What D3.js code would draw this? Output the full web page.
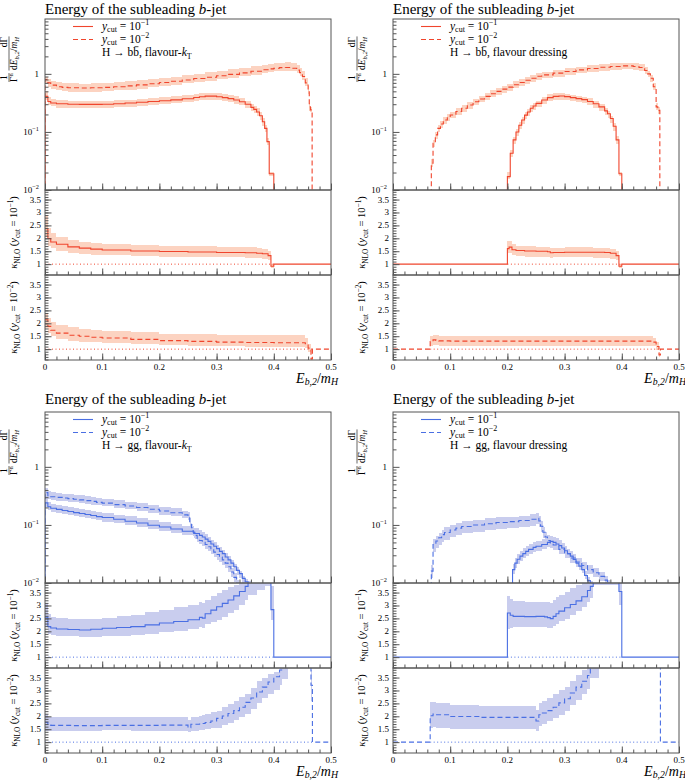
<!DOCTYPE html>
<html><head><meta charset="utf-8">
<script src="https://cdn.jsdelivr.net/npm/d3@7"></script>
<style>
body{margin:0;background:#fff}
svg{display:block}
text{font-family:"Liberation Serif","DejaVu Serif",serif;fill:#000}
</style>
</head><body>
<svg id="c" width="685" height="781"></svg>
<script>
// ---------------- DATA ----------------
// main distributions: [bin lower edge, value]; last entry = upper edge of last bin
const bbKt01 = [[0,0.41],[0.005,0.335],[0.01,0.315],[0.02,0.305],[0.04,0.30],[0.06,0.298],[0.08,0.298],[0.10,0.30],[0.12,0.305],[0.14,0.315],[0.16,0.325],[0.18,0.335],[0.20,0.345],[0.22,0.357],[0.24,0.372],[0.26,0.392],[0.27,0.403],[0.28,0.413],[0.29,0.413],[0.30,0.403],[0.31,0.39],[0.32,0.375],[0.33,0.355],[0.34,0.33],[0.35,0.30],[0.36,0.265],[0.365,0.245],[0.37,0.22],[0.375,0.19],[0.38,0.15],[0.384,0.115],[0.388,0.068],[0.392,0.019],[0.40,null]];
const bbKt001 = [[0,0.80],[0.005,0.70],[0.01,0.64],[0.02,0.60],[0.03,0.585],[0.04,0.575],[0.06,0.57],[0.08,0.575],[0.10,0.585],[0.12,0.60],[0.14,0.62],[0.16,0.645],[0.18,0.675],[0.20,0.71],[0.22,0.745],[0.24,0.785],[0.26,0.83],[0.28,0.875],[0.30,0.925],[0.32,0.98],[0.34,1.04],[0.36,1.11],[0.38,1.18],[0.39,1.22],[0.40,1.25],[0.41,1.28],[0.42,1.29],[0.43,1.25],[0.44,1.16],[0.445,1.05],[0.45,0.90],[0.455,0.70],[0.46,0.53],[0.462,0.27],[0.464,0.24],[0.467,null]];
const bbDr01 = [[0.20,0.017],[0.205,0.043],[0.21,0.073],[0.215,0.10],[0.22,0.13],[0.225,0.16],[0.23,0.195],[0.235,0.22],[0.24,0.255],[0.245,0.28],[0.25,0.31],[0.26,0.355],[0.27,0.39],[0.28,0.41],[0.29,0.415],[0.30,0.405],[0.31,0.39],[0.32,0.375],[0.33,0.36],[0.34,0.335],[0.35,0.305],[0.36,0.27],[0.37,0.23],[0.375,0.205],[0.38,0.17],[0.385,0.125],[0.39,0.073],[0.395,0.019],[0.40,null]];
const bbDr001 = [[0.067,0.029],[0.07,0.064],[0.074,0.089],[0.078,0.115],[0.083,0.137],[0.088,0.16],[0.095,0.18],[0.10,0.196],[0.11,0.225],[0.12,0.255],[0.13,0.29],[0.14,0.33],[0.15,0.37],[0.16,0.41],[0.17,0.455],[0.18,0.50],[0.19,0.545],[0.20,0.59],[0.21,0.65],[0.22,0.71],[0.23,0.775],[0.24,0.84],[0.25,0.91],[0.26,0.96],[0.28,1.03],[0.30,1.10],[0.32,1.17],[0.34,1.24],[0.36,1.30],[0.38,1.34],[0.40,1.37],[0.41,1.37],[0.42,1.34],[0.43,1.29],[0.44,1.14],[0.445,1.0],[0.45,0.84],[0.455,0.60],[0.46,0.27],[0.463,0.235],[0.4665,null]];
const ggKt01 = [[0,0.24],[0.005,0.205],[0.01,0.194],[0.02,0.185],[0.03,0.177],[0.04,0.17],[0.05,0.163],[0.06,0.157],[0.07,0.151],[0.08,0.145],[0.09,0.139],[0.10,0.134],[0.12,0.125],[0.14,0.116],[0.16,0.108],[0.18,0.099],[0.20,0.092],[0.22,0.085],[0.24,0.078],[0.26,0.071],[0.27,0.066],[0.275,0.062],[0.28,0.057],[0.285,0.052],[0.29,0.047],[0.295,0.043],[0.30,0.039],[0.305,0.035],[0.31,0.032],[0.315,0.028],[0.32,0.025],[0.325,0.022],[0.33,0.019],[0.335,0.0165],[0.34,0.0145],[0.345,0.012],[0.35,0.0105],[0.355,0.009],[0.36,null]];
const ggKt001 = [[0,0.36],[0.005,0.32],[0.01,0.305],[0.02,0.298],[0.03,0.29],[0.04,0.284],[0.05,0.277],[0.06,0.27],[0.07,0.262],[0.08,0.254],[0.09,0.245],[0.10,0.237],[0.12,0.224],[0.14,0.212],[0.16,0.199],[0.18,0.186],[0.20,0.174],[0.22,0.162],[0.24,0.149],[0.25,0.14],[0.253,0.11],[0.256,0.09],[0.259,0.075],[0.262,0.066],[0.266,0.059],[0.27,0.054],[0.275,0.050],[0.28,0.046],[0.285,0.042],[0.29,0.038],[0.295,0.034],[0.30,0.031],[0.305,0.028],[0.31,0.025],[0.315,0.022],[0.32,0.019],[0.325,0.0155],[0.33,0.0125],[0.335,0.0095],[0.34,null]];
const ggDr01 = [[0.209,0.017],[0.213,0.022],[0.217,0.0256],[0.222,0.029],[0.227,0.032],[0.232,0.035],[0.237,0.038],[0.245,0.041],[0.25,0.043],[0.26,0.046],[0.27,0.050],[0.275,0.052],[0.28,0.050],[0.285,0.047],[0.29,0.044],[0.295,0.040],[0.30,0.036],[0.305,0.032],[0.31,0.029],[0.315,0.0255],[0.32,0.022],[0.325,0.0195],[0.33,0.017],[0.335,0.0135],[0.34,0.011],[0.345,0.0095],[0.35,null]];
const ggDr001 = [[0.067,0.016],[0.07,0.046],[0.075,0.053],[0.08,0.060],[0.085,0.068],[0.09,0.074],[0.10,0.082],[0.11,0.088],[0.12,0.094],[0.14,0.10],[0.16,0.105],[0.18,0.11],[0.20,0.114],[0.22,0.119],[0.24,0.125],[0.25,0.13],[0.255,0.117],[0.258,0.095],[0.262,0.075],[0.266,0.062],[0.27,0.054],[0.275,0.049],[0.28,0.045],[0.29,0.038],[0.30,0.032],[0.31,0.027],[0.32,0.023],[0.33,0.020],[0.34,0.017],[0.35,0.015],[0.36,0.013],[0.37,0.0112],[0.375,0.0098],[0.38,null]];

// K-factors: [bin lower edge, ratio, band low, band high]
const bbKtR01 = [[0,2.37,2.05,2.88],[0.005,1.99,1.70,2.40],[0.01,1.86,1.62,2.20],[0.02,1.77,1.52,2.05],[0.04,1.67,1.42,1.93],[0.06,1.62,1.38,1.87],[0.08,1.58,1.36,1.82],[0.10,1.55,1.34,1.78],[0.15,1.51,1.31,1.73],[0.20,1.49,1.29,1.71],[0.25,1.47,1.27,1.69],[0.30,1.45,1.26,1.67],[0.35,1.44,1.24,1.66],[0.37,1.42,1.22,1.64],[0.38,1.40,1.20,1.60],[0.39,1.33,1.15,1.52],[0.395,0.92,0.85,1.0],[0.40,1,null,null],[0.50,null]];
const bbKtR001 = [[0,2.14,1.82,2.40],[0.005,1.88,1.62,2.20],[0.01,1.73,1.50,2.05],[0.02,1.62,1.40,1.92],[0.04,1.54,1.33,1.84],[0.06,1.50,1.29,1.78],[0.08,1.46,1.26,1.75],[0.10,1.43,1.24,1.72],[0.15,1.38,1.19,1.66],[0.20,1.33,1.15,1.60],[0.25,1.30,1.13,1.57],[0.30,1.27,1.11,1.54],[0.35,1.26,1.10,1.53],[0.40,1.25,1.10,1.53],[0.45,1.25,1.10,1.53],[0.455,1.21,1.06,1.45],[0.46,1.04,0.90,1.20],[0.465,0.62,0.58,0.70],[0.4675,1,null,null],[0.50,null]];
const bbDrR01 = [[0,1,null,null],[0.20,1.60,1.44,1.90],[0.203,1.66,1.45,1.88],[0.208,1.56,1.35,1.78],[0.215,1.53,1.31,1.72],[0.23,1.51,1.29,1.69],[0.25,1.50,1.28,1.68],[0.27,1.48,1.27,1.66],[0.275,1.44,1.25,1.63],[0.28,1.45,1.26,1.64],[0.30,1.46,1.26,1.65],[0.35,1.46,1.25,1.64],[0.37,1.45,1.23,1.63],[0.38,1.42,1.20,1.60],[0.39,1.33,1.15,1.52],[0.395,0.92,0.85,1.0],[0.40,1,null,null],[0.50,null]];
const bbDrR001 = [[0,1,null,null],[0.065,1.29,1.12,1.50],[0.07,1.36,1.16,1.56],[0.075,1.34,1.15,1.53],[0.08,1.32,1.14,1.50],[0.10,1.31,1.14,1.49],[0.20,1.31,1.14,1.49],[0.30,1.31,1.14,1.49],[0.40,1.31,1.14,1.49],[0.455,1.27,1.11,1.45],[0.46,1.10,0.97,1.26],[0.465,0.78,0.70,0.88],[0.4675,1,null,null],[0.50,null]];
const ggKtR01 = [[0,2.55,2.16,3.08],[0.005,2.18,1.89,2.68],[0.01,2.13,1.85,2.55],[0.02,2.09,1.82,2.51],[0.04,2.07,1.80,2.49],[0.06,2.05,1.78,2.48],[0.08,2.08,1.79,2.49],[0.10,2.12,1.80,2.51],[0.125,2.15,1.83,2.58],[0.15,2.18,1.86,2.64],[0.175,2.25,1.91,2.74],[0.20,2.32,1.96,2.84],[0.225,2.38,2.02,2.93],[0.25,2.45,2.08,3.02],[0.27,2.54,2.16,3.12],[0.275,2.51,2.13,3.08],[0.28,2.68,2.27,3.22],[0.29,2.82,2.35,3.35],[0.30,2.95,2.42,3.47],[0.31,3.08,2.56,3.60],[0.32,3.21,2.70,3.70],[0.33,3.37,2.84,3.80],[0.34,3.54,3.00,3.95],[0.35,3.74,3.20,4.2],[0.355,4.2,3.4,5.0],[0.37,4.4,3.6,5.2],[0.385,4.6,3.75,5.4],[0.395,2.84,2.42,3.74],[0.40,1,null,null],[0.50,null]];
const ggKtR001 = [[0,1.76,1.43,2.09],[0.005,1.67,1.45,1.98],[0.01,1.65,1.45,1.97],[0.05,1.64,1.45,1.97],[0.10,1.65,1.46,1.98],[0.15,1.65,1.45,1.97],[0.20,1.66,1.44,1.97],[0.25,1.56,1.38,1.84],[0.255,1.69,1.45,1.98],[0.27,1.70,1.46,2.00],[0.275,1.72,1.47,2.04],[0.28,1.76,1.50,2.09],[0.29,1.82,1.53,2.15],[0.30,1.92,1.56,2.22],[0.31,2.01,1.66,2.36],[0.32,2.11,1.75,2.48],[0.33,2.22,1.84,2.60],[0.34,2.35,1.96,2.74],[0.35,2.54,2.09,2.87],[0.36,2.71,2.28,3.10],[0.37,2.94,2.50,3.35],[0.38,3.13,2.70,3.50],[0.39,3.33,2.85,3.62],[0.40,3.53,3.0,3.72],[0.41,3.79,3.2,3.95],[0.415,4.1,3.45,4.8],[0.425,4.6,4.0,5.4],[0.465,3.2,2.6,3.8],[0.4675,1,null,null],[0.50,null]];
const ggDrR01 = [[0,1,null,null],[0.20,2.71,2.09,3.37],[0.205,2.62,2.12,3.25],[0.21,2.58,2.15,3.18],[0.23,2.57,2.16,3.15],[0.25,2.58,2.16,3.14],[0.265,2.56,2.15,3.13],[0.27,2.53,2.14,3.12],[0.275,2.49,2.12,3.10],[0.28,2.58,2.20,3.22],[0.285,2.68,2.30,3.33],[0.29,2.78,2.38,3.42],[0.30,2.91,2.49,3.54],[0.31,3.04,2.62,3.66],[0.32,3.18,2.77,3.78],[0.33,3.34,2.95,3.92],[0.34,3.58,3.15,4.1],[0.345,3.74,3.3,4.3],[0.35,4.4,3.8,5.2],[0.395,3.54,3.0,4.2],[0.40,1,null,null],[0.50,null]];
const ggDrR001 = [[0,1,null,null],[0.065,2.02,1.56,2.54],[0.07,2.09,1.58,2.56],[0.075,2.06,1.56,2.52],[0.10,1.99,1.52,2.45],[0.15,1.96,1.50,2.41],[0.20,1.96,1.52,2.38],[0.25,1.82,1.45,2.25],[0.255,2.06,1.62,2.52],[0.26,2.13,1.72,2.60],[0.27,2.22,1.82,2.72],[0.28,2.35,1.92,2.86],[0.29,2.52,2.06,3.00],[0.30,2.68,2.22,3.13],[0.31,2.90,2.42,3.38],[0.32,3.13,2.62,3.60],[0.33,3.36,2.87,3.79],[0.34,3.58,3.05,4.0],[0.345,4.2,3.5,5.0],[0.36,4.8,4.0,5.6],[0.4675,1,null,null],[0.50,null]];

// ranges where LO is non-zero (reference line at 1)
const loRangeKt = [[0,0.40],[0,0.4675]];
const loRangeDr = [[0.20,0.40],[0.065,0.4675]];

// ticks / labels
const xMajor = [0,0.1,0.2,0.3,0.4,0.5];
const xLabels = ["0","0.1","0.2","0.3","0.4","0.5"];
const mainMajor = [0.01,0.1,1];
const mainLabels = [["10","−2"],["10","−1"],["1",""]];
const ratioMajor = [1,1.5,2,2.5,3,3.5];
const ratioLabels = ["1","1.5","2","2.5","3","3.5"];
const cutLabels = ["−1","−2"];
const titleText = "Energy of the subleading ";
const procLabels = {bb:"H → bb, flavour", gg:"H → gg, flavour"};

// ---------------- STYLE ----------------
const RED = "#f0452d", RED_BAND = "#fcd3c1";
const BLUE = "#4a6fe3", BLUE_BAND = "#c9cdee";
const FRAME = "#555";
const W = 286, MAINH = 171, RH = 85;

const svg = d3.select("#c");

function rich(t, parts, fs, subShift){
  let shift = 0;
  const ss = subShift==null ? 0.25 : subShift;
  parts.forEach(p=>{
    const ts = t.append("tspan").text(p.t);
    const target = p.sub ? ss*fs : (p.sup ? -0.4*fs : 0);
    if (target - shift !== 0) ts.attr("dy", target - shift);
    shift = target;
    if (p.it) ts.attr("font-style","italic");
    if (p.sub || p.sup) ts.attr("font-size", (fs*0.7).toFixed(1)+"px");
  });
  return t;
}

function bins(arr){
  return arr.slice(0,-1).map((d,i)=>({x0:d[0], x1:arr[i+1][0], v:d[1], lo:d[2], hi:d[3]}));
}
function relErr(ratio, xm){
  for (let i=0;i<ratio.length-1;i++){
    if (xm>=ratio[i][0] && xm<ratio[i+1][0]){
      const d = ratio[i];
      if (d[2]==null) return null;
      return [d[2]/d[1], d[3]/d[1]];
    }
  }
  return null;
}

const panels = [
  {L:45,  T:19,  color:RED,  band:RED_BAND,  proc:"bb", alg:"kt", main:[bbKt01,bbKt001], ratio:[bbKtR01,bbKtR001], lo:loRangeKt},
  {L:393, T:19,  color:RED,  band:RED_BAND,  proc:"bb", alg:"dr", main:[bbDr01,bbDr001], ratio:[bbDrR01,bbDrR001], lo:loRangeDr},
  {L:45,  T:412, color:BLUE, band:BLUE_BAND, proc:"gg", alg:"kt", main:[ggKt01,ggKt001], ratio:[ggKtR01,ggKtR001], lo:loRangeKt},
  {L:393, T:412, color:BLUE, band:BLUE_BAND, proc:"gg", alg:"dr", main:[ggDr01,ggDr001], ratio:[ggDrR01,ggDrR001], lo:loRangeDr}
];

const xMinor = d3.range(0,26).map(i=>i*0.02);
const mainMinor = [];
[0.01,0.1,1].forEach(d=>{ for(let k=2;k<=9;k++){ if(k*d<8.8) mainMinor.push(k*d); } });
const ratioMinor = d3.range(6,39).map(i=>i/10);

panels.forEach((p,pi)=>{
  const g = svg.append("g");
  const L=p.L, R=L+W, T=p.T, MB=T+MAINH, R1B=MB+RH, R2B=R1B+RH;
  const x = d3.scaleLinear().domain([0,0.5]).range([L,R]);
  const yM = d3.scaleLog().domain([0.01,8.8]).range([MB,T]);
  const yR1 = d3.scaleLinear().domain([0.58,3.87]).range([R1B,MB]);
  const yR2 = d3.scaleLinear().domain([0.58,3.87]).range([R2B,R1B]);
  const dashes = [null,"5,3"];

  function clip(id, y0, y1){
    svg.append("clipPath").attr("id",id).append("rect").attr("x",L).attr("y",y0).attr("width",W).attr("height",y1-y0);
    return g.append("g").attr("clip-path",`url(#${id})`);
  }

  // ---- main ----
  const gm = clip("cm"+pi, T, MB);
  p.main.forEach((arr,si)=>{
    const b = bins(arr);
    b.forEach(bb=>{
      const e = relErr(p.ratio[si], (bb.x0+bb.x1)/2);
      if (!e || bb.v==null) return;
      const y1 = yM(bb.v*e[1]), y0 = yM(bb.v*e[0]);
      gm.append("rect").attr("x",x(bb.x0)).attr("width",x(bb.x1)-x(bb.x0))
        .attr("y",y1).attr("height",y0-y1).attr("fill",p.band).attr("shape-rendering","crispEdges");
    });
  });
  const floor = 1e-4;
  p.main.forEach((arr,si)=>{
    const b = bins(arr), last = b[b.length-1];
    const pts = [[b[0].x0,floor]].concat(b.map(d=>[d.x0,d.v]), [[last.x1,last.v],[last.x1,floor]]);
    gm.append("path").attr("d", d3.line().x(d=>x(d[0])).y(d=>yM(d[1])).curve(d3.curveStepAfter)(pts))
      .attr("fill","none").attr("stroke",p.color).attr("stroke-width",1.1)
      .attr("stroke-dasharray",dashes[si]);
  });

  // ---- ratios ----
  [yR1,yR2].forEach((yr,si)=>{
    const top = si===0?MB:R1B, bot = si===0?R1B:R2B;
    const gr = clip("cr"+pi+"_"+si, top, bot);
    const b = bins(p.ratio[si]), last = b[b.length-1];
    b.forEach(bb=>{
      if (bb.lo==null) return;
      gr.append("rect").attr("x",x(bb.x0)).attr("width",x(bb.x1)-x(bb.x0))
        .attr("y",yr(bb.hi)).attr("height",yr(bb.lo)-yr(bb.hi)).attr("fill",p.band).attr("shape-rendering","crispEdges");
    });
    const lr = p.lo[si];
    gr.append("path").attr("d", d3.line().x(d=>x(d[0])).y(d=>yr(d[1]))([[lr[0],1],[lr[1],1]]))
      .attr("stroke",p.color).attr("stroke-width",1).attr("stroke-dasharray","1,2.5").attr("fill","none");
    const pts = b.map(d=>[d.x0,d.v]).concat([[last.x1,last.v]]);
    gr.append("path").attr("d", d3.line().x(d=>x(d[0])).y(d=>yr(d[1])).curve(d3.curveStepAfter)(pts))
      .attr("fill","none").attr("stroke",p.color).attr("stroke-width",1.1)
      .attr("stroke-dasharray",dashes[si]);
  });

  // ---- axes & frames ----
  function xAxis(yPos){
    g.append("g").attr("transform",`translate(0,${yPos})`)
      .call(d3.axisBottom(x).tickValues(xMinor).tickSize(-3.5).tickFormat(""))
      .call(a=>{a.select(".domain").remove(); a.selectAll("line").attr("stroke",FRAME);});
    g.append("g").attr("transform",`translate(0,${yPos})`)
      .call(d3.axisBottom(x).tickValues(xMajor).tickSize(-6.5).tickFormat(""))
      .call(a=>{a.select(".domain").remove(); a.selectAll("line").attr("stroke",FRAME);});
  }
  function yAxis(scale, minor, major){
    g.append("g").attr("transform",`translate(${L},0)`)
      .call(d3.axisLeft(scale).tickValues(minor).tickSize(-3.5).tickFormat(""))
      .call(a=>{a.select(".domain").remove(); a.selectAll("line").attr("stroke",FRAME);});
    g.append("g").attr("transform",`translate(${L},0)`)
      .call(d3.axisLeft(scale).tickValues(major).tickSize(-6.5).tickFormat(""))
      .call(a=>{a.select(".domain").remove(); a.selectAll("line").attr("stroke",FRAME);});
  }
  xAxis(MB); xAxis(R1B); xAxis(R2B);
  yAxis(yM, mainMinor, mainMajor);
  yAxis(yR1, ratioMinor, ratioMajor);
  yAxis(yR2, ratioMinor, ratioMajor);
  [[T,MB],[MB,R1B],[R1B,R2B]].forEach(([a,b])=>{
    g.append("rect").attr("x",L).attr("y",a).attr("width",W).attr("height",b-a)
      .attr("fill","none").attr("stroke",FRAME).attr("stroke-width",1);
  });

  // tick labels
  mainMajor.forEach((v,i)=>{
    const t = g.append("text").attr("x",L-6).attr("y",yM(v)+3).attr("text-anchor","end").attr("font-size","9px");
    rich(t, mainLabels[i][1] ? [{t:mainLabels[i][0]},{t:mainLabels[i][1],sup:1}] : [{t:mainLabels[i][0]}], 9);
  });
  [yR1,yR2].forEach(yr=>{
    ratioMajor.forEach((v,i)=>{
      g.append("text").attr("x",L-4).attr("y",yr(v)+3).attr("text-anchor","end").attr("font-size","9px").text(ratioLabels[i]);
    });
  });
  xMajor.forEach((v,i)=>{
    g.append("text").attr("x",x(v)).attr("y",R2B+9.5).attr("text-anchor","middle").attr("font-size","9px").text(xLabels[i]);
  });

  // x title
  rich(g.append("text").attr("x",R+7).attr("y",R2B+23.3).attr("text-anchor","end").attr("font-size","14px"),
    [{t:"E",it:1},{t:"b,2",sub:1,it:1},{t:"/"},{t:"m",it:1},{t:"H",sub:1,it:1}], 14, 0.15);

  // title
  rich(g.append("text").attr("x",L).attr("y",Math.max(T-8,13.5)).attr("font-size","15px"),
    [{t:titleText},{t:"b",it:1},{t:"-jet"}], 15);

  // legend
  [0,1].forEach(si=>{
    const yy = T+7.5+si*13;
    g.append("line").attr("x1",L+28).attr("x2",L+48).attr("y1",yy).attr("y2",yy)
      .attr("stroke",p.color).attr("stroke-width",1.1).attr("stroke-dasharray",dashes[si]);
    rich(g.append("text").attr("x",L+57).attr("y",T+10.5+si*13).attr("font-size","11.5px"),
      [{t:"y",it:1},{t:"cut",sub:1},{t:" = 10"},{t:cutLabels[si],sup:1}], 11.5);
  });
  const lp = p.alg==="kt" ? [{t:procLabels[p.proc]+"-"},{t:"k",it:1},{t:"T",sub:1}] : [{t:procLabels[p.proc]+" dressing"}];
  const lt = rich(g.append("text").attr("x",L+57).attr("y",T+37).attr("font-size","11.5px"), lp, 11.5);
  if (p.proc==="bb"){
    // anti-quark bar over the second b
    const idx = procLabels.bb.indexOf("bb")+1;
    const ext = lt.node().getExtentOfChar(idx);
    g.append("line").attr("x1",ext.x+1.2).attr("x2",ext.x+ext.width-0.6)
      .attr("y1",T+37-9.3).attr("y2",T+37-9.3).attr("stroke","#000").attr("stroke-width",0.7);
  }

  // main y label (rotated fractions)
  const yl = g.append("g").attr("transform",`translate(${L-36},${T+63}) rotate(-90)`);
  const fs = 9.5;
  yl.append("line").attr("x1",0).attr("x2",9).attr("y1",0).attr("y2",0).attr("stroke","#000").attr("stroke-width",0.6);
  yl.append("text").attr("x",4.5).attr("y",-1.6).attr("text-anchor","middle").attr("font-size",fs+"px").text("1");
  rich(yl.append("text").attr("x",4.5).attr("y",7.6).attr("text-anchor","middle").attr("font-size",fs+"px"),[{t:"Γ"},{t:"n",sup:1}],fs);
  const den = rich(yl.append("text").attr("x",12).attr("y",7.6).attr("font-size",fs+"px"),
    [{t:"d"},{t:"E",it:1},{t:"b,2",sub:1,it:1},{t:"/"},{t:"m",it:1},{t:"H",sub:1,it:1}],fs);
  const dl = den.node().getComputedTextLength();
  yl.append("line").attr("x1",11.5).attr("x2",12.5+dl).attr("y1",0).attr("y2",0).attr("stroke","#000").attr("stroke-width",0.6);
  yl.append("text").attr("x",12+dl).attr("y",-1.6).attr("text-anchor","end").attr("font-size",fs+"px").text("dΓ");

  // ratio y labels
  [[MB,R1B],[R1B,R2B]].forEach(([a,b],si)=>{
    const t = g.append("text").attr("transform",`translate(${L-28},${(a+b)/2}) rotate(-90)`)
      .attr("text-anchor","middle").attr("font-size","10.5px");
    rich(t,[{t:"κ",it:1},{t:"NLO",sub:1},{t:" ("},{t:"y",it:1},{t:"cut",sub:1},{t:" = 10"},{t:cutLabels[si],sup:1},{t:")"}],10.5);
  });
});
</script>
</body></html>
